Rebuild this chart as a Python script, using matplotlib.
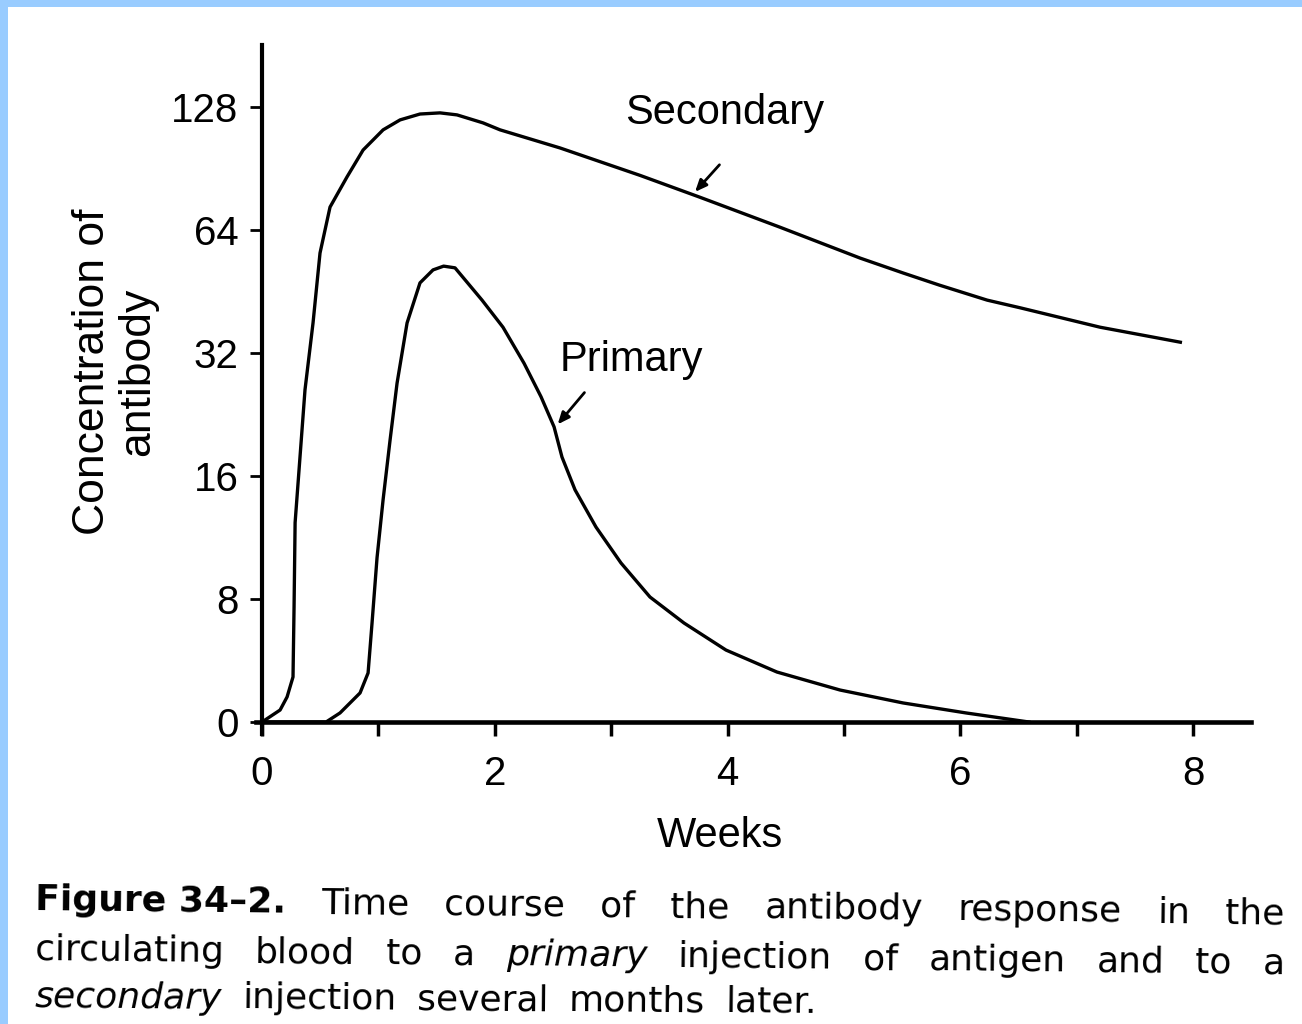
import os
import numpy as np
import matplotlib
matplotlib.use("Agg")
import matplotlib.pyplot as plt
from matplotlib.patches import Rectangle
from matplotlib.ticker import FixedLocator, NullLocator
from matplotlib.transforms import IdentityTransform

plt.rcParams['font.family'] = ['Liberation Sans', 'DejaVu Sans']

# antibody concentration (weeks, titre)
sec_weeks = [0, 0.155, 0.215, 0.266, 0.275, 0.284, 0.326, 0.369, 0.438, 0.498,
             0.584, 0.730, 0.868, 1.04, 1.186, 1.357, 1.529, 1.675, 1.899, 2.045,
             2.56, 3.25, 3.76, 4.45, 5.14, 5.51, 5.82, 6.23, 6.51, 7.20, 7.89]
sec_conc = [0, 0.78, 1.63, 2.93, 7.48, 12.3, 17.8, 26.0, 37.9, 56.2,
            72.8, 86.3, 100.4, 112.5, 119, 123, 123.8, 122.4, 117, 112.5,
            101.6, 87, 77, 65, 54.6, 50.2, 46.9, 43.1, 41.3, 37, 34]

pri_weeks = [0, 0.55, 0.67, 0.842, 0.911, 0.945, 0.988, 1.04, 1.10, 1.16, 1.246,
             1.357, 1.469, 1.56, 1.658, 1.89, 2.07, 2.251, 2.397, 2.509, 2.577,
             2.689, 2.869, 3.084, 3.333, 3.625, 3.986, 4.424, 4.966, 5.507,
             6.048, 6.589]
pri_conc = [0, 0, 0.59, 1.89, 3.19, 6.44, 10.1, 14.0, 19.6, 27.0, 37.9,
            47.5, 51.1, 52.2, 51.7, 43.1, 37.0, 30.2, 25.0, 21.1, 17.8,
            14.8, 12.0, 9.8, 8.09, 6.44, 4.68, 3.25, 2.08, 1.24,
            0.59, 0]

y_ticks = [0, 8, 16, 32, 64, 128]
y_labels = ['0', '8', '16', '32', '64', '128']
x_major = [0, 2, 4, 6, 8]
x_minor = [1, 3, 5, 7]

caption = [
    [("Figure 34–2.", 'bold'), ("Time", ''), ("course", ''), ("of", ''), ("the", ''),
     ("antibody", ''), ("response", ''), ("in", ''), ("the", '')],
    [("circulating", ''), ("blood", ''), ("to", ''), ("a", ''), ("primary", 'italic'),
     ("injection", ''), ("of", ''), ("antigen", ''), ("and", ''), ("to", ''), ("a", '')],
    [("secondary", 'italic'), ("injection", ''), ("several", ''), ("months", ''),
     ("later.", '')],
]


# linear below 8, doubling steps above (0, 8, 16, ... equally spaced)
def fwd(v):
    v = np.asarray(v, dtype=float)
    return np.where(v < 8, v / 8.0, np.log2(np.maximum(v, 8) / 8.0) + 1)


def inv(l):
    l = np.asarray(l, dtype=float)
    return np.where(l < 1, 8.0 * l, 8.0 * 2 ** (np.maximum(l, 1) - 1))


fig = plt.figure(figsize=(13.02, 10.24), dpi=100)
fig.patch.set_facecolor('white')
blue = '#99ccff'
fig.add_artist(Rectangle((0, 1 - 7 / 1024), 1, 7 / 1024, transform=fig.transFigure,
                         color=blue, lw=0))
fig.add_artist(Rectangle((0, 0), 8 / 1302, 1, transform=fig.transFigure,
                         color=blue, lw=0))

ax = fig.add_axes([0.1968, 0.2829, 0.7643, 0.6727])
ax.set_facecolor('none')
ax.set_yscale('function', functions=(fwd, inv))
ax.set_xlim(-0.05, 8.5)
ax.set_ylim(-0.8, 181)

ax.plot(sec_weeks, sec_conc, color='black', lw=2.4, solid_joinstyle='round')
ax.plot(pri_weeks, pri_conc, color='black', lw=2.4, solid_joinstyle='round')

for s in ['top', 'right']:
    ax.spines[s].set_visible(False)
ax.spines['left'].set_position(('data', 0))
ax.spines['bottom'].set_position(('data', 0))
ax.spines['left'].set_linewidth(3)
ax.spines['bottom'].set_linewidth(3.3)

ax.yaxis.set_major_locator(FixedLocator(y_ticks))
ax.yaxis.set_minor_locator(NullLocator())
ax.set_yticklabels(y_labels)
ax.xaxis.set_major_locator(FixedLocator(x_major))
ax.xaxis.set_minor_locator(FixedLocator(x_minor))
ax.tick_params(axis='y', direction='out', length=9, width=2, pad=8, labelsize=29)
ax.tick_params(axis='x', which='both', direction='out', length=10, width=2.5,
               pad=14, labelsize=29)

# labels with arrows
ax.annotate('', xy=(3.72, 79.3), xytext=(3.93, 92.4),
            arrowprops=dict(arrowstyle='-|>,head_length=0.7,head_width=0.3',
                            lw=2, color='black', shrinkA=0, shrinkB=0))
ax.annotate('', xy=(2.54, 21.4), xytext=(2.77, 25.6),
            arrowprops=dict(arrowstyle='-|>,head_length=0.7,head_width=0.3',
                            lw=2, color='black', shrinkA=0, shrinkB=0))
ax.text(3.12, 123.6, 'Secondary', fontsize=30, ha='left', va='center')
ax.text(2.56, 30.7, 'Primary', fontsize=30, ha='left', va='center')

fig.text(720 / 1302, 1 - 836 / 1024, 'Weeks', fontsize=30, ha='center', va='center')
fig.text(115 / 1302, 1 - 372 / 1024, 'Concentration of\nantibody', fontsize=32,
         rotation=90, ha='center', va='center', multialignment='center',
         linespacing=1.15)

# caption, one word at a time so lines can be justified and tilted like the scan
cap_font = ['DejaVu Sans']
cap_size = 26
renderer = fig.canvas.get_renderer()
line_geom = [(35, 1285, 910, 924, True), (35, 1285, 960, 974, True),
             (35, 1285, 1007, 1016, False)]
for words, (x0, x1, yb0, yb1, justify) in zip(caption, line_geom):
    items = []
    for w, st in words:
        t = fig.text(0, 0, w, fontsize=cap_size, family=cap_font,
                     fontweight='bold' if st == 'bold' else 'normal',
                     fontstyle='italic' if st == 'italic' else 'normal',
                     transform=IdentityTransform(), ha='left', va='baseline',
                     rotation=-0.6, rotation_mode='anchor')
        items.append(t)
    widths = [t.get_window_extent(renderer).width for t in items]
    if justify:
        gap = (x1 - x0 - sum(widths)) / (len(items) - 1)
    else:
        gap = 20
    x = x0
    for t, wd in zip(items, widths):
        yb = yb0 + (yb1 - yb0) * (x - x0) / (x1 - x0)
        t.set_position((x, 1024 - yb))
        x += wd + gap

fig.savefig('out.png', dpi=100)
